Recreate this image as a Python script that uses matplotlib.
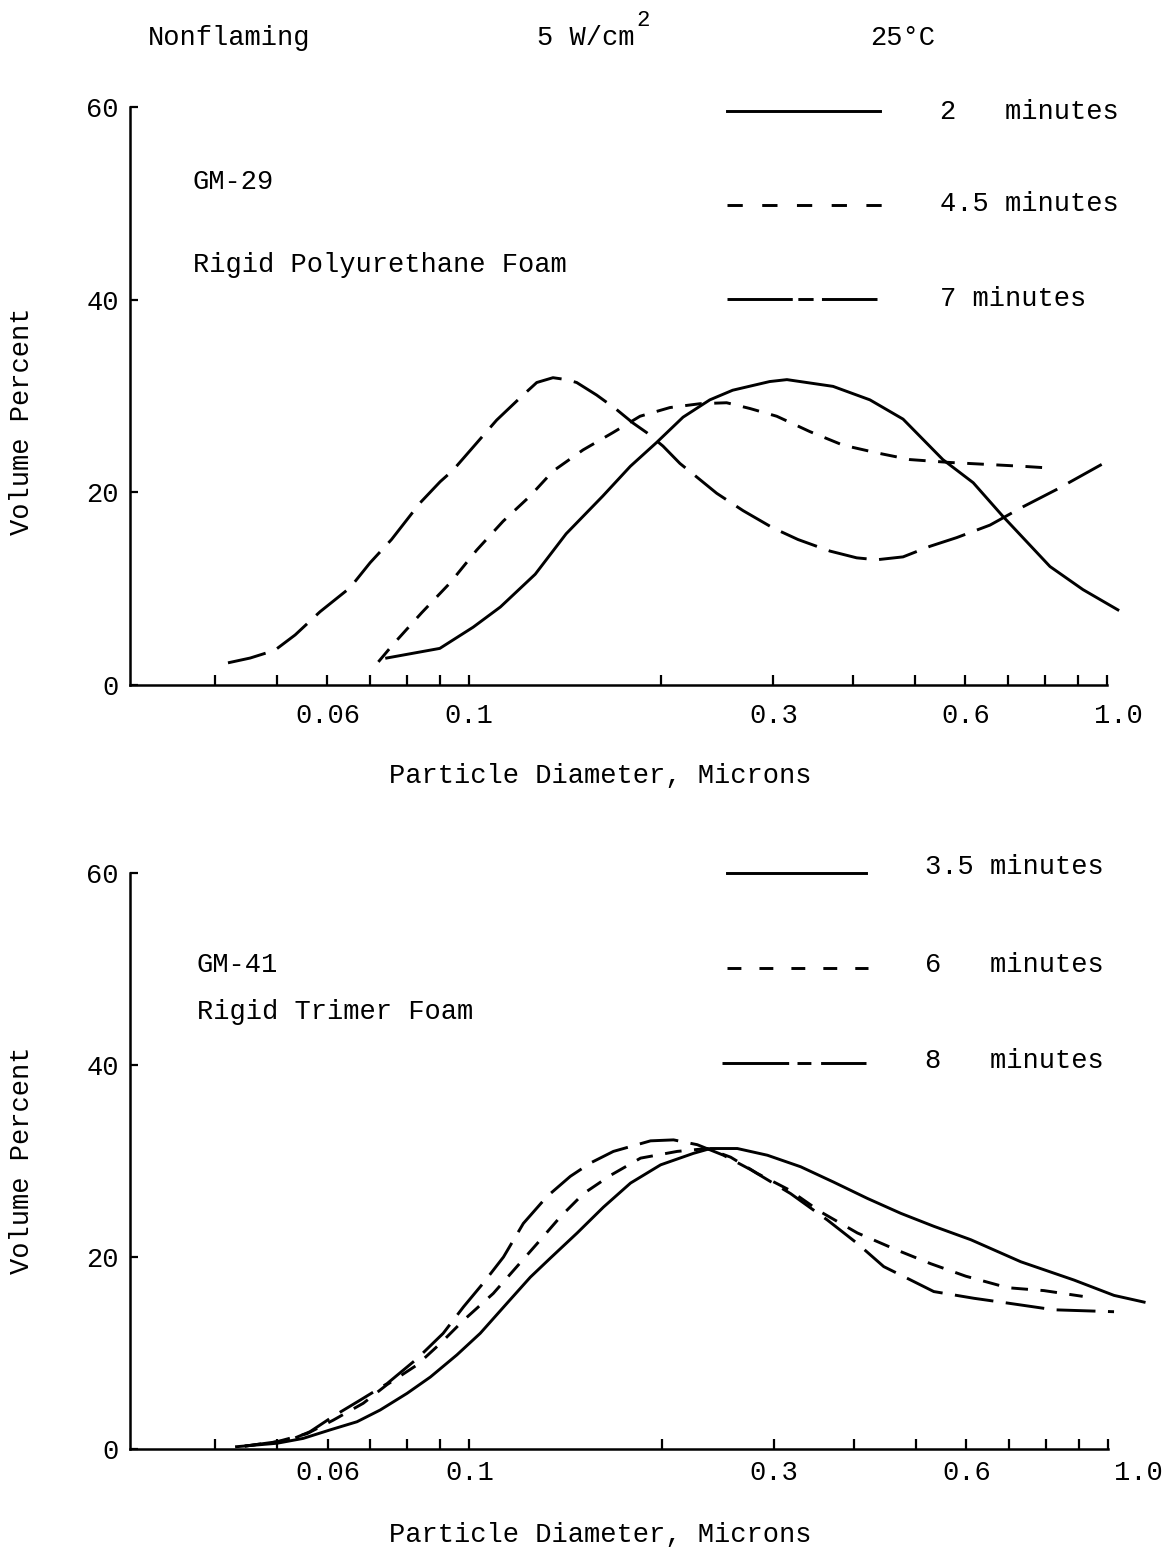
import matplotlib.pyplot as plt

plt.rcParams['font.family'] = ['Liberation Mono', 'DejaVu Sans Mono']
plt.rcParams['font.size'] = 19.5
plt.rcParams['lines.scale_dashes'] = False
plt.rcParams['lines.solid_joinstyle'] = 'round'
plt.rcParams['lines.dash_joinstyle'] = 'round'

# GM-29, rigid polyurethane foam (particle diameter in microns, volume percent)
gm29_2min_x = [0.0743, 0.090, 0.1015, 0.112, 0.127, 0.142, 0.162, 0.179, 0.197, 0.2165,
               0.2385, 0.259, 0.296, 0.315, 0.372, 0.425, 0.479, 0.553, 0.617, 0.687,
               0.814, 0.917, 1.04]
gm29_2min_y = [2.8, 3.8, 6.0, 8.1, 11.5, 15.7, 19.6, 22.7, 25.2, 27.8,
               29.6, 30.6, 31.5, 31.7, 31.0, 29.6, 27.6, 23.4, 21.0, 17.5,
               12.3, 9.9, 7.8]

gm29_45min_x = [0.0721, 0.0760, 0.0843, 0.0934, 0.1028, 0.1131, 0.1246, 0.1354, 0.1509,
                0.1681, 0.1854, 0.2065, 0.2302, 0.2534, 0.2757, 0.3036, 0.3423, 0.3856,
                0.4355, 0.4911, 0.5674, 0.6477, 0.7385, 0.8231]
gm29_45min_y = [2.4, 4.2, 7.5, 10.6, 14.0, 17.0, 19.6, 22.2, 24.4,
                26.2, 27.9, 28.8, 29.2, 29.3, 28.7, 27.9, 26.3, 24.9,
                24.1, 23.4, 23.1, 22.9, 22.7, 22.5]

gm29_7min_x = [0.0419, 0.0454, 0.0496, 0.0534, 0.0584, 0.0651, 0.0700, 0.0756, 0.0838,
               0.0901, 0.0944, 0.1040, 0.1105, 0.1202, 0.1277, 0.1354, 0.1422, 0.1475,
               0.1585, 0.1703, 0.1807, 0.1899, 0.2014, 0.2141, 0.2274, 0.2445, 0.2689,
               0.2996, 0.3279, 0.3680, 0.4052, 0.4355, 0.479, 0.528, 0.5813, 0.6556,
               0.7385, 0.834, 0.981]
gm29_7min_y = [2.3, 2.8, 3.6, 5.2, 7.6, 10.1, 12.7, 15.1, 18.9,
               21.1, 22.3, 25.5, 27.5, 29.8, 31.4, 31.9, 31.7, 31.4,
               30.1, 28.6, 27.2, 26.2, 24.8, 23.0, 21.6, 19.9, 18.1,
               16.3, 15.1, 13.9, 13.2, 13.0, 13.3, 14.4, 15.3, 16.6,
               18.5, 20.3, 22.9]

# GM-41, rigid trimer foam
gm41_35min_x = [0.0432, 0.0500, 0.0549, 0.0606, 0.0667, 0.0725, 0.0799, 0.0869, 0.0956,
                0.1040, 0.1146, 0.1246, 0.1340, 0.1475, 0.1622, 0.1788, 0.1993, 0.2244,
                0.2385, 0.2628, 0.2929, 0.3302, 0.3719, 0.4201, 0.4737, 0.5336, 0.6098,
                0.7305, 0.8846, 1.022, 1.139]
gm41_35min_y = [0.24, 0.6, 1.1, 2.0, 2.84, 4.06, 5.8, 7.5, 9.8,
                12.05, 15.2, 17.9, 19.9, 22.5, 25.2, 27.7, 29.6, 30.8,
                31.3, 31.3, 30.6, 29.4, 27.8, 26.1, 24.55, 23.2, 21.8,
                19.5, 17.6, 16.0, 15.3]

gm41_6min_x = [0.0445, 0.0500, 0.0557, 0.0612, 0.0682, 0.0743, 0.0828, 0.0901, 0.0979,
               0.1090, 0.1187, 0.1277, 0.1389, 0.1509, 0.1663, 0.1854, 0.2116, 0.2358,
               0.2565, 0.2825, 0.3166, 0.3549, 0.4052, 0.4681, 0.5278, 0.5989, 0.6965,
               0.7937, 0.9128]
gm41_6min_y = [0.3, 0.76, 1.6, 3.0, 4.76, 6.7, 8.75, 11.0, 13.4,
               16.2, 19.0, 21.4, 24.2, 26.6, 28.5, 30.3, 31.0, 31.3,
               30.4, 28.7, 27.0, 24.7, 22.5, 20.7, 19.3, 18.0, 16.8,
               16.5, 15.9]

gm41_8min_x = [0.0445, 0.0524, 0.0563, 0.0612, 0.0675, 0.0743, 0.0828, 0.0910, 0.0979,
               0.1052, 0.1131, 0.1215, 0.1323, 0.1439, 0.1548, 0.1681, 0.1922, 0.2088,
               0.2274, 0.2500, 0.2757, 0.3185, 0.3636, 0.4052, 0.4455, 0.4911, 0.5336,
               0.6166, 0.6965, 0.8231, 1.022]
gm41_8min_y = [0.3, 0.94, 1.8, 3.4, 5.1, 6.8, 9.4, 12.05, 14.8,
               17.3, 20.0, 23.5, 26.3, 28.4, 29.8, 31.0, 32.1, 32.2,
               31.7, 30.6, 29.1, 26.6, 23.85, 21.4, 19.0, 17.6, 16.4,
               15.7, 15.2, 14.5, 14.3]

x_ticks = [0.04, 0.05, 0.06, 0.07, 0.08, 0.09, 0.1, 0.2, 0.3, 0.4, 0.5, 0.6, 0.7, 0.8, 0.9, 1.0]
x_tick_labels = ['', '', '0.06', '', '', '', '0.1', '', '0.3', '', '', '0.6', '', '', '', '']
y_ticks = [0, 20, 40, 60]

SHORT = (0, (12, 9))
LONG = (0, (28, 9))

W, H = 1166, 1550
fig = plt.figure(figsize=(W / 100, H / 100), dpi=100)


def px_box(left, top, right, bottom):
    return [left / W, 1 - bottom / H, (right - left) / W, (bottom - top) / H]


def setup_axis(ax, xpad, one_shift):
    ax.set_xscale('log')
    ax.set_xlim(10 ** (-977 / 638), 1.0)
    ax.set_ylim(0, 60)
    for side in ('top', 'right'):
        ax.spines[side].set_visible(False)
    for side in ('left', 'bottom'):
        ax.spines[side].set_linewidth(1.8)
    ax.xaxis.set_minor_locator(plt.NullLocator())
    ax.set_xticks(x_ticks)
    ax.set_xticklabels(x_tick_labels)
    ax.set_yticks(y_ticks)
    ax.tick_params(axis='x', direction='in', length=7, width=1.6, pad=xpad)
    ax.tick_params(axis='y', direction='in', length=6, width=1.6, pad=8)
    ax.annotate('1.0', xy=(1.0, 0), xycoords='data', xytext=(one_shift, -xpad),
                textcoords='offset points', ha='center', va='top', annotation_clip=False)


ax1 = fig.add_axes(px_box(130, 107, 1107, 685))
setup_axis(ax1, 13, 8)
ax1.plot(gm29_2min_x, gm29_2min_y, color='black', lw=2.1, ls='-', clip_on=False)
ax1.plot(gm29_45min_x, gm29_45min_y, color='black', lw=2.1, ls=SHORT, clip_on=False)
ax1.plot(gm29_7min_x, gm29_7min_y, color='black', lw=2.1, ls=LONG, clip_on=False)

ax2 = fig.add_axes(px_box(130, 873, 1108, 1449))
setup_axis(ax2, 8, 22)
ax2.plot(gm41_35min_x, gm41_35min_y, color='black', lw=2.1, ls='-', clip_on=False)
ax2.plot(gm41_6min_x, gm41_6min_y, color='black', lw=2.1, ls=SHORT, clip_on=False)
ax2.plot(gm41_8min_x, gm41_8min_y, color='black', lw=2.1, ls=LONG, clip_on=False)

# overlay in pixel units for headings, labels and the hand-made keys
ov = fig.add_axes([0, 0, 1, 1])
ov.set_xlim(0, W)
ov.set_ylim(H, 0)
ov.axis('off')
ov.patch.set_alpha(0)

ov.text(148, 38, 'Nonflaming', ha='left', va='center')
ov.text(537, 38, '5 W/cm', ha='left', va='center')
ov.text(636, 20, '2', ha='left', va='center', fontsize=16)
ov.text(870, 38, '25°C', ha='left', va='center')

for yc in (421, 1160):
    ov.text(22, yc, 'Volume Percent', rotation=90, ha='center', va='center')
for yc in (776, 1535):
    ov.text(600, yc, 'Particle Diameter, Microns', ha='center', va='center')

ov.text(193, 182, 'GM-29', ha='left', va='center')
ov.text(193, 265, 'Rigid Polyurethane Foam', ha='left', va='center')
ov.text(197, 965, 'GM-41', ha='left', va='center')
ov.text(197, 1012, 'Rigid Trimer Foam', ha='left', va='center')

key_kw = dict(color='black', lw=2.1)
ov.plot([727, 880], [111, 111], ls='-', **key_kw)
ov.plot([727, 882], [205, 205], ls=(0, (11, 14)), **key_kw)
ov.plot([727, 880], [299, 299], ls=(0, (47, 4, 11, 6, 40, 100)), **key_kw)
ov.text(940, 112, '2   minutes', ha='left', va='center')
ov.text(940, 204, '4.5 minutes', ha='left', va='center')
ov.text(940, 299, '7 minutes', ha='left', va='center')

ov.plot([727, 866], [873, 873], ls='-', **key_kw)
ov.plot([727, 868], [968, 968], ls=(0, (10, 13)), **key_kw)
ov.plot([722, 866], [1063, 1063], ls=(0, (48, 6, 10, 7, 35, 100)), **key_kw)
ov.text(925, 867, '3.5 minutes', ha='left', va='center')
ov.text(925, 965, '6   minutes', ha='left', va='center')
ov.text(925, 1061, '8   minutes', ha='left', va='center')

fig.savefig('out.png', dpi=100)
